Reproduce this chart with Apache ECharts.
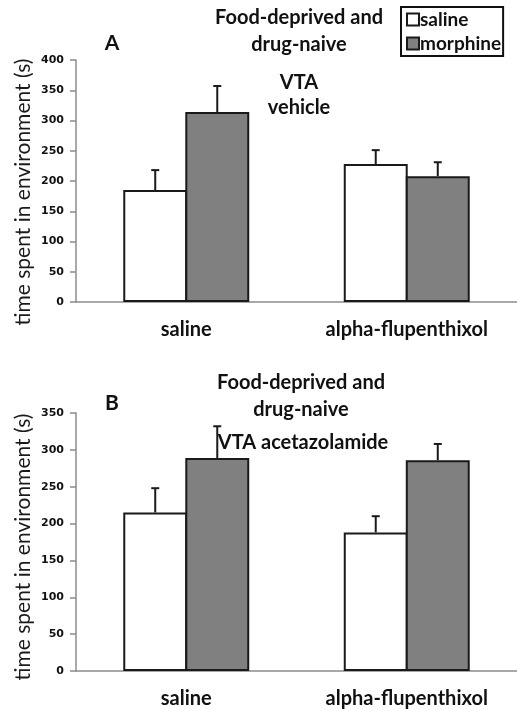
<!DOCTYPE html>
<html>
<head>
<meta charset="utf-8">
<script src="https://cdn.jsdelivr.net/npm/echarts@6/dist/echarts.min.js"></script>
<style>
  html, body { margin: 0; padding: 0; background: #fff; }
  #chart { width: 517px; height: 710px; }
</style>
</head>
<body>
<div id="chart"></div>
<script>
// values
var categories = ['saline', 'alpha-flupenthixol'];
var seriesNames = ['saline', 'morphine'];
var yTitle = 'time spent in environment (s)';

var salineA = [185, 228];
var salineErrA = [33, 23];
var morphineA = [314, 208];
var morphineErrA = [43, 23];

var salineB = [215, 188];
var salineErrB = [33, 22];
var morphineB = [289, 286];
var morphineErrB = [43, 22];

var BAR_FRAC = 0.29;
var FONT = 'Lato, "Open Sans", sans-serif';
var INK = '#111';

function errData(means, errs) {
    return means.map(function (m, i) { return [i, m, errs[i]]; });
}

// upward half of an error bar above one of the paired bars
function errorBars(side) {
    return function (params, api) {
        var i = api.value(0);
        var mean = api.value(1);
        var err = api.value(2);
        var band = api.size([1, 0])[0];
        var base = api.coord([i, mean]);
        var top = api.coord([i, mean + err]);
        var x = base[0] + side * band * BAR_FRAC * 0.97 / 2;
        var style = { stroke: '#1a1a1a', lineWidth: 2 };
        return {
            type: 'group',
            children: [
                { type: 'line', shape: { x1: x, y1: base[1], x2: x, y2: top[1] }, style: style },
                { type: 'line', shape: { x1: x - 4, y1: top[1], x2: x + 4, y2: top[1] }, style: style }
            ]
        };
    };
}

function xAxisFor(idx) {
    return {
        type: 'category',
        gridIndex: idx,
        data: categories,
        axisLine: { lineStyle: { color: '#8c8c8c', width: 1.5 } },
        axisTick: { show: false },
        axisLabel: { margin: 18, color: INK, fontFamily: FONT, fontWeight: 'bold', fontSize: 20 }
    };
}

function yAxisFor(idx, max) {
    return {
        type: 'value',
        gridIndex: idx,
        min: 0,
        max: max,
        interval: 50,
        axisLine: { show: true, lineStyle: { color: '#8c8c8c', width: 1.5 } },
        axisTick: { show: true, length: 6, lineStyle: { color: '#8c8c8c', width: 1.5 } },
        splitLine: { show: false },
        axisLabel: { margin: 12, color: INK, fontFamily: '"DejaVu Sans", sans-serif', fontWeight: 'bold', fontSize: 11 }
    };
}

function barSeries(name, idx, values, fill) {
    return {
        name: name,
        type: 'bar',
        xAxisIndex: idx,
        yAxisIndex: idx,
        data: values,
        barWidth: (BAR_FRAC * 100) + '%',
        barGap: '-3%',
        itemStyle: { color: fill, borderColor: '#1a1a1a', borderWidth: 2 },
        emphasis: { disabled: true }
    };
}

function errSeries(idx, means, errs, side) {
    return {
        type: 'custom',
        xAxisIndex: idx,
        yAxisIndex: idx,
        data: errData(means, errs),
        renderItem: errorBars(side),
        z: 5,
        silent: true
    };
}

function label(text, x, y, size) {
    return {
        type: 'text',
        x: x,
        y: y,
        style: {
            text: text,
            fill: INK,
            font: 'bold ' + size + 'px ' + FONT,
            align: 'center',
            verticalAlign: 'middle'
        }
    };
}

function axisTitle(y) {
    return {
        type: 'text',
        x: 23,
        y: y,
        rotation: Math.PI / 2,
        style: {
            text: yTitle,
            fill: '#1a1a1a',
            font: '21px ' + FONT,
            align: 'center',
            verticalAlign: 'middle'
        }
    };
}

var chart = echarts.init(document.getElementById('chart'));

chart.setOption({
    backgroundColor: '#fff',
    animation: false,
    grid: [
        { left: 76, right: -5, top: 60, height: 242 },
        { left: 76, right: -5, top: 413, height: 258 }
    ],
    legend: {
        data: seriesNames,
        orient: 'vertical',
        left: 401,
        top: 7,
        padding: [3, 2, 3, 5],
        itemGap: 5,
        itemWidth: 12,
        itemHeight: 12,
        icon: 'rect',
        borderColor: '#111',
        borderWidth: 2,
        borderRadius: 0,
        selectedMode: false,
        textStyle: { color: INK, fontFamily: FONT, fontWeight: 'bold', fontSize: 19, padding: [0, 0, 0, -4] }
    },
    xAxis: [xAxisFor(0), xAxisFor(1)],
    yAxis: [yAxisFor(0, 400), yAxisFor(1, 350)],
    series: [
        barSeries('saline', 0, salineA, '#ffffff'),
        barSeries('morphine', 0, morphineA, '#808080'),
        errSeries(0, salineA, salineErrA, -1),
        errSeries(0, morphineA, morphineErrA, 1),
        barSeries('saline', 1, salineB, '#ffffff'),
        barSeries('morphine', 1, morphineB, '#808080'),
        errSeries(1, salineB, salineErrB, -1),
        errSeries(1, morphineB, morphineErrB, 1)
    ],
    graphic: [
        axisTitle(192),
        axisTitle(547),
        label('A', 112, 43, 21),
        label('Food-deprived and', 299, 18, 20),
        label('drug-naive', 299, 45, 20),
        label('VTA', 299, 83, 20),
        label('vehicle', 299, 108, 20),
        label('B', 112, 403, 21),
        label('Food-deprived and', 301, 383, 20),
        label('drug-naive', 301, 410, 20),
        label('VTA acetazolamide', 303, 443, 20)
    ]
});
</script>
</body>
</html>
